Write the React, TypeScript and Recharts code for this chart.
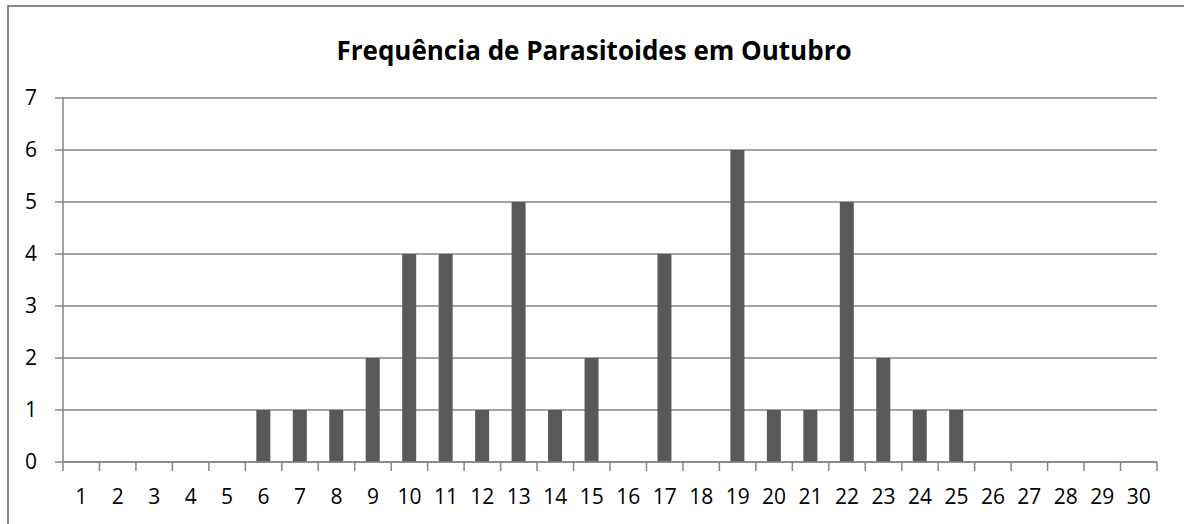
import React from 'react';
import { BarChart, Bar, XAxis, YAxis, CartesianGrid } from 'recharts';

const dias = ['1', '2', '3', '4', '5', '6', '7', '8', '9', '10', '11', '12', '13', '14', '15',
  '16', '17', '18', '19', '20', '21', '22', '23', '24', '25', '26', '27', '28', '29', '30'];
const frequencia = [0, 0, 0, 0, 0, 1, 1, 1, 2, 4, 4, 1, 5, 1, 2, 0, 4, 0, 6, 1, 1, 5, 2, 1, 1, 0, 0, 0, 0, 0];
const yTicks = [0, 1, 2, 3, 4, 5, 6, 7];

const data = dias.map((dia, i) => ({ dia, valor: frequencia[i] }));

const WIDTH = 1184;
const HEIGHT = 524;
const MARGIN = { top: 98, right: 27, bottom: 0, left: 0 };
const Y_AXIS_W = 63;
const BAND = (WIDTH - MARGIN.right - Y_AXIS_W) / dias.length;
const GRAY = '#868686';
const FONT = '"Open Sans", sans-serif';

function XTick(props: any) {
  const { x, y, payload, index } = props;
  const left = x - BAND / 2;
  return (
    <g>
      <line x1={left} y1={y} x2={left} y2={y + 9} stroke={GRAY} strokeWidth={1.5} />
      {index === dias.length - 1 && (
        <line x1={x + BAND / 2} y1={y} x2={x + BAND / 2} y2={y + 9} stroke={GRAY} strokeWidth={1.5} />
      )}
      <text x={x} y={y + 42} textAnchor="middle" fontSize={21} fontFamily={FONT} fill="#000">
        {payload.value}
      </text>
    </g>
  );
}

export default function App() {
  return (
    <div style={{ position: 'absolute', left: 0, top: 0, width: WIDTH, height: HEIGHT, overflow: 'hidden', background: '#fff' }}>
      <div style={{ position: 'absolute', left: 7, top: 5, width: WIDTH + 20, height: HEIGHT + 20, border: `2px solid ${GRAY}`, boxSizing: 'border-box' }} />
      <div style={{ position: 'absolute', left: 0, top: 33, width: 1188, textAlign: 'center', fontFamily: FONT, fontWeight: 700, fontSize: 26, lineHeight: '34px', color: '#000' }}>
        Frequência de Parasitoides em Outubro
      </div>
      <div style={{ position: 'absolute', left: 0, top: 0 }}>
        <BarChart width={WIDTH} height={HEIGHT} data={data} margin={MARGIN}>
          <CartesianGrid vertical={false} stroke={GRAY} strokeWidth={1.5} />
          <XAxis
            dataKey="dia"
            height={62}
            axisLine={{ stroke: GRAY, strokeWidth: 1.5 }}
            tickLine={false}
            tickSize={0}
            tickMargin={0}
            interval={0}
            tick={<XTick />}
          />
          <YAxis
            width={Y_AXIS_W}
            domain={[0, 7]}
            ticks={yTicks}
            interval={0}
            axisLine={{ stroke: GRAY, strokeWidth: 1.5 }}
            tickLine={{ stroke: GRAY, strokeWidth: 1.5 }}
            tickSize={8}
            tickMargin={18}
            tick={{ fontSize: 21, fontFamily: FONT, fill: '#000' }}
          />
          <Bar dataKey="valor" fill="#595959" barSize={14} isAnimationActive={false} />
        </BarChart>
      </div>
    </div>
  );
}
